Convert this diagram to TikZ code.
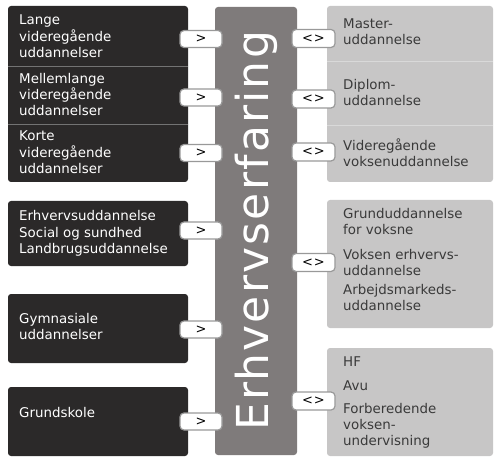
\documentclass[tikz,border=0pt]{standalone}
\usepackage{fontspec}
\setmainfont{DejaVu Sans}
\usepackage{tikz}

\definecolor{moerkgraa}{HTML}{2B2929}
\definecolor{soejlegraa}{HTML}{7F7B7B}
\definecolor{lysgraa}{HTML}{C7C6C6}
\definecolor{tekstgraa}{HTML}{3A3A3A}

\begin{document}
\begin{tikzpicture}[x=1pt, y=-1pt]

\tikzset{
  moerk/.style={fill=moerkgraa, rounded corners=3pt},
  lys/.style={fill=lysgraa, rounded corners=3pt},
  vtekst/.style={anchor=west, align=left, inner sep=0pt,
    text=white, font=\fontsize{13.4}{16.3}\selectfont},
  htekst/.style={anchor=west, align=left, inner sep=0pt,
    text=tekstgraa, font=\fontsize{13.4}{16}\selectfont},
  skillev/.style={draw=black!55, line width=0.8pt},
  skilleh/.style={draw=white!85!black, line width=0.8pt},
  soejle/.style={rectangle, rotate=90, rounded corners=3pt,
    fill=soejlegraa, minimum width=448pt, minimum height=82pt,
    text=white, font=\fontsize{44}{44}\selectfont\addfontfeatures{LetterSpace=5}},
  pil/.style={rectangle, rounded corners=4pt, draw=black!40,
    line width=1.2pt, fill=white, inner sep=0pt,
    minimum width=42pt, minimum height=17pt,
    font=\fontsize{13}{13}\selectfont}
}

\useasboundingbox (0,0) rectangle (500,462);

% ---- BACKGROUNDS ----
\fill[moerk] (8,6)   rectangle (188,182);
\fill[moerk] (8,201) rectangle (188,266);
\fill[moerk] (8,294) rectangle (188,363);
\fill[moerk] (8,387) rectangle (188,456);
\draw[skillev] (8,66)  -- (188,66);
\draw[skillev] (8,124) -- (188,124);

\fill[lys] (327,6)   rectangle (493,182);
\fill[lys] (327,200) rectangle (493,328);
\fill[lys] (327,348) rectangle (493,456);
\draw[skilleh] (327,61)  -- (493,61);
\draw[skilleh] (327,125) -- (493,125);

% ---- LEFT TEXTS ----
\node (lange)  [vtekst] at (19,36.5) {Lange\\videregående\\uddannelser};
\node (mellem) [vtekst] at (19,94.5) {Mellemlange\\videregående\\uddannelser};
\node (korte)  [vtekst] at (19,152.5) {Korte\\videregående\\uddannelser};
\node (erhudd) [vtekst] at (19,233.5)
  {Erhvervsuddannelse\\Social og sundhed\\Landbrugsuddannelse};
\node (gymn)   [vtekst] at (19,326.5) {Gymnasiale\\uddannelser};
\node (grund)  [vtekst] at (19,412.5) {Grundskole};

% ---- CENTRAL BAR ----
\node (erfaring) [soejle] at (256,231) {Erhvervserfaring};

% ---- RIGHT TEXTS ----
\node (master)  [htekst] at (343,32) {Master-\\uddannelse};
\node (diplom)  [htekst] at (343,92.5) {Diplom-\\uddannelse};
\node (vvu)     [htekst] at (343,152.5) {Videregående\\voksenuddannelse};
\node (voksen)  [htekst] at (343,259.5)
  {Grunduddannelse\\for voksne\\[9pt]Voksen erhvervs-\\uddannelse\\[2.5pt]Arbejdsmarkeds-\\uddannelse};
\node (hf)      [htekst] at (343,402.5)
  {HF\\[8pt]Avu\\[7pt]Forberedende\\voksen-\\undervisning};

% ---- MARKERS ----
\node (pl1) [pil] at (201,39)    {>};
\node (pl2) [pil] at (201,97.5)  {>};
\node (pl3) [pil] at (201,153)   {>};
\node (pl4) [pil] at (201,230.5) {>};
\node (pl5) [pil] at (201,329.5) {>};
\node (pl6) [pil] at (201,421.5) {>};

\node (pr1) [pil, minimum width=43pt, minimum height=18pt] at (313.5,38.5) {<\kern1pt>};
\node (pr2) [pil, minimum width=43pt, minimum height=18pt] at (313.5,99)   {<\kern1pt>};
\node (pr3) [pil, minimum width=43pt, minimum height=18pt] at (313.5,152)  {<\kern1pt>};
\node (pr4) [pil, minimum width=43pt, minimum height=18pt] at (313.5,262.5) {<\kern1pt>};
\node (pr5) [pil, minimum width=43pt, minimum height=18pt] at (313.5,401)  {<\kern1pt>};

\end{tikzpicture}
\end{document}
